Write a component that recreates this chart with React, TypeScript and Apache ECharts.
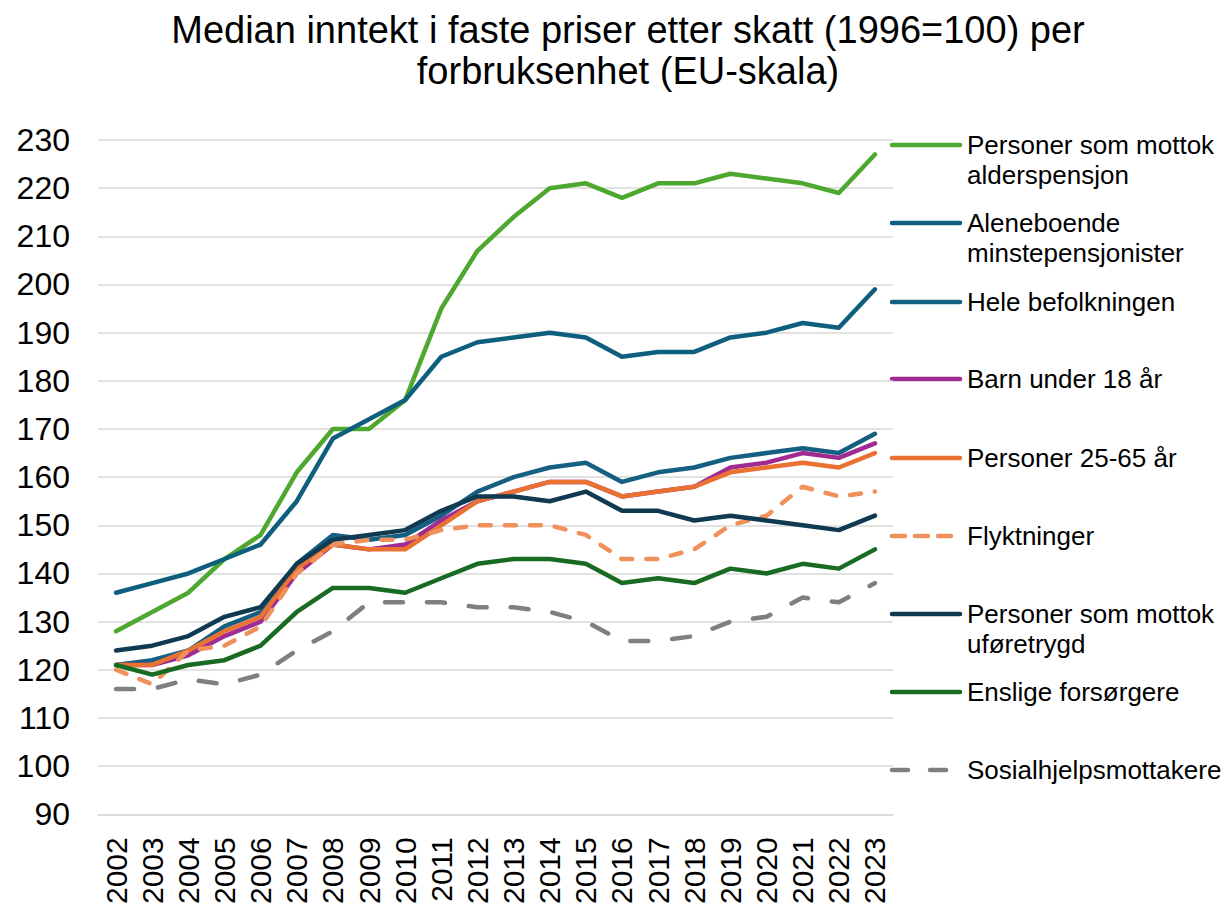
import React, { useEffect, useRef } from "react";
import * as echarts from "echarts";

const years = ["2002","2003","2004","2005","2006","2007","2008","2009","2010","2011","2012","2013","2014","2015","2016","2017","2018","2019","2020","2021","2022","2023"];

const alderspensjon = [128,132,136,143,148,161,170,170,176,195,207,214,220,221,218,221,221,223,222,221,219,227];
const minstepensjonister = [136,138,140,143,146,155,168,172,176,185,188,189,190,189,185,186,186,189,190,192,191,199];
const heleBefolkningen = [121,122,124,129,132,142,148,147,148,152,157,160,162,163,159,161,162,164,165,166,165,169];
const barnUnder18 = [121,121,123,127,130,140,146,145,146,151,155,157,159,159,156,157,158,162,163,165,164,167];
const personer2565 = [121,121,124,128,131,141,146,145,145,150,155,157,159,159,156,157,158,161,162,163,162,165];
const flyktninger = [120,117,124,125,129,140,146,147,147,149,150,150,150,148,143,143,145,150,152,158,156,157];
const uforetrygd = [124,125,127,131,133,142,147,148,149,153,156,156,155,157,153,153,151,152,151,150,149,152];
const enslige = [121,119,121,122,125,132,137,137,136,139,142,143,143,142,138,139,138,141,140,142,141,145];
const sosialhjelp = [116,116,118,117,119,124,128,134,134,134,133,133,132,130,126,126,127,130,131,135,134,138];

const seriesDefs = [
  { name: "Personer som mottok alderspensjon", label: "Personer som mottok\nalderspensjon", data: alderspensjon, color: "#4EA72E", dash: null as number[] | null },
  { name: "Aleneboende minstepensjonister", label: "Aleneboende\nminstepensjonister", data: minstepensjonister, color: "#0E5E7E", dash: null },
  { name: "Hele befolkningen", label: "Hele befolkningen", data: heleBefolkningen, color: "#156082", dash: null },
  { name: "Barn under 18 år", label: "Barn under 18 år", data: barnUnder18, color: "#A02B93", dash: null },
  { name: "Personer 25-65 år", label: "Personer 25-65 år", data: personer2565, color: "#E97132", dash: null },
  { name: "Flyktninger", label: "Flyktninger", data: flyktninger, color: "#F0915C", dash: [11, 14] },
  { name: "Personer som mottok uføretrygd", label: "Personer som mottok\nuføretrygd", data: uforetrygd, color: "#0F3A52", dash: null },
  { name: "Enslige forsørgere", label: "Enslige forsørgere", data: enslige, color: "#196B24", dash: null },
  { name: "Sosialhjelpsmottakere", label: "Sosialhjelpsmottakere", data: sosialhjelp, color: "#7F7F7F", dash: [18, 24] },
];

const legendY = [137, 215, 294, 371, 450, 528, 606, 684, 762];

export default function App() {
  const ref = useRef<HTMLDivElement>(null);
  useEffect(() => {
    if (!ref.current) return;
    const chart = echarts.init(ref.current, null, { renderer: "svg" });
    const font = "'Liberation Sans', Arial, sans-serif";
    const graphic: any[] = [];
    seriesDefs.forEach((s, i) => {
      const y = legendY[i];
      graphic.push({
        type: "line",
        shape: { x1: 884, y1: y, x2: 952, y2: y },
        style: {
          stroke: s.color,
          lineWidth: 4.5,
          lineCap: "round",
          lineDash: s.dash ? (s.name === "Flyktninger" ? [13, 10] : [16, 22]) : null,
        },
      });
      graphic.push({
        type: "text",
        x: 959,
        y: y - 15,
        style: {
          text: s.label,
          font: `26px ${font}`,
          fill: "#000",
          lineHeight: 30,
          textVerticalAlign: "top",
        },
      });
    });
    chart.setOption({
      animation: false,
      title: {
        text: "Median inntekt i faste priser etter skatt (1996=100) per\nforbruksenhet (EU-skala)",
        left: 615,
        textAlign: "center",
        top: -4,
        textStyle: { fontFamily: font, fontSize: 38, fontWeight: "normal", color: "#000", lineHeight: 41 },
      },
      grid: { left: 90, top: 132, width: 795, height: 682, containLabel: false },
      xAxis: {
        type: "category",
        data: years,
        boundaryGap: true,
        axisLine: { lineStyle: { color: "#D9D9D9", width: 1.5 } },
        axisTick: { show: false },
        axisLabel: { rotate: 90, fontFamily: font, fontSize: 30, color: "#000", margin: 23, interval: 0 },
      },
      yAxis: {
        type: "value",
        min: 90,
        max: 230,
        interval: 10,
        axisLine: { show: false },
        axisTick: { show: false },
        splitLine: { lineStyle: { color: "#D9D9D9", width: 1.5 } },
        axisLabel: { fontFamily: font, fontSize: 32, color: "#000", margin: 28 },
      },
      graphic,
      series: seriesDefs.map((s) => ({
        name: s.name,
        type: "line",
        data: s.data,
        symbol: "none",
        lineStyle: {
          color: s.color,
          width: 4.5,
          type: s.dash ? s.dash : "solid",
          cap: "round",
          join: "round",
        },
        itemStyle: { color: s.color },
      })),
    });
    return () => chart.dispose();
  }, []);
  return <div ref={ref} style={{ width: 1216, height: 899 }} />;
}
